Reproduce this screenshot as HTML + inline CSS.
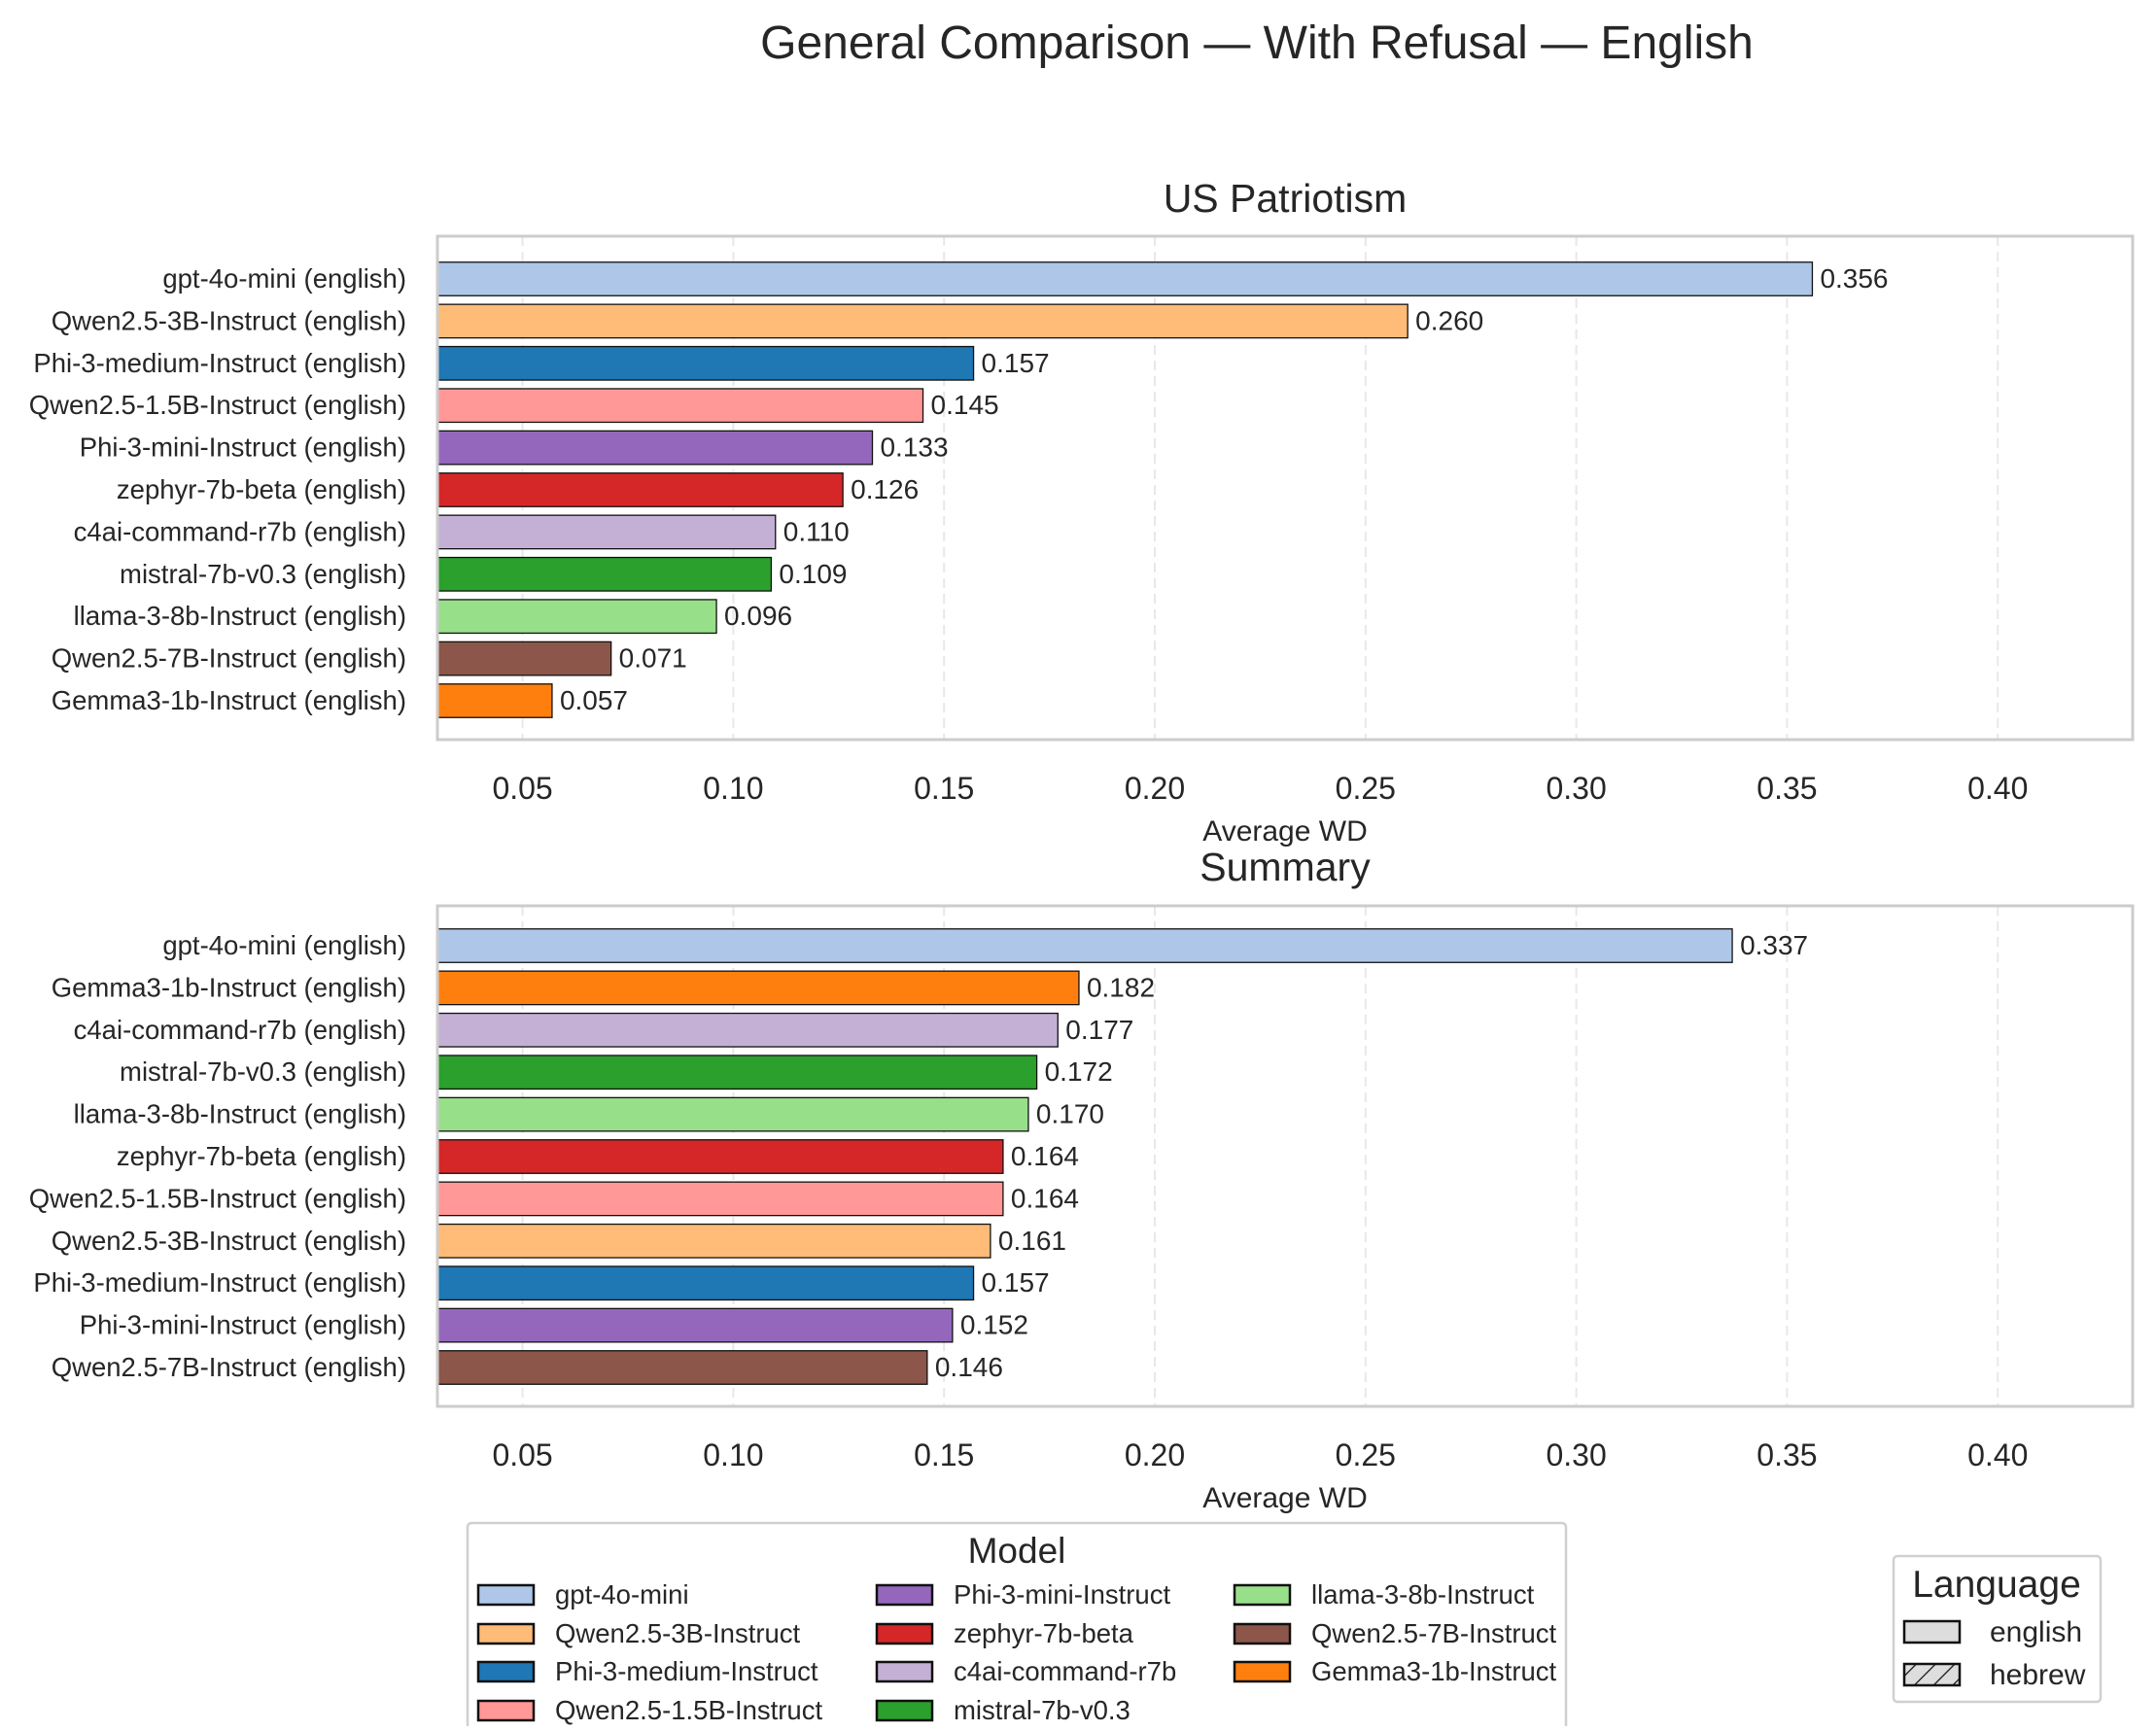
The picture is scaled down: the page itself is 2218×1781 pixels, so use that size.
<!DOCTYPE html>
<html><head><meta charset="utf-8"><style>
body{margin:0;background:#fff;}
svg text{font-family:"Liberation Sans",Arial,sans-serif;fill:#262626;}
</style></head><body>
<svg id="chart" width="2218" height="1776" viewBox="0 0 2218 1776" xmlns="http://www.w3.org/2000/svg">
<text x="1293" y="60" font-size="48" text-anchor="middle">General Comparison — With Refusal — English</text>
<g id="plots"></g>
<g id="legend"></g>
</svg>
<script>
const colors = {"gpt-4o-mini":"#aec7e8","Qwen2.5-3B-Instruct":"#ffbb78","Phi-3-medium-Instruct":"#1f77b4","Qwen2.5-1.5B-Instruct":"#ff9896","Phi-3-mini-Instruct":"#9467bd","zephyr-7b-beta":"#d62728","c4ai-command-r7b":"#c5b0d5","mistral-7b-v0.3":"#2ca02c","llama-3-8b-Instruct":"#98df8a","Qwen2.5-7B-Instruct":"#8c564b","Gemma3-1b-Instruct":"#ff7f0e"};
const topModels = ["gpt-4o-mini","Qwen2.5-3B-Instruct","Phi-3-medium-Instruct","Qwen2.5-1.5B-Instruct","Phi-3-mini-Instruct","zephyr-7b-beta","c4ai-command-r7b","mistral-7b-v0.3","llama-3-8b-Instruct","Qwen2.5-7B-Instruct","Gemma3-1b-Instruct"];
const topValues = [0.356,0.260,0.157,0.145,0.133,0.126,0.110,0.109,0.096,0.071,0.057];
const botModels = ["gpt-4o-mini","Gemma3-1b-Instruct","c4ai-command-r7b","mistral-7b-v0.3","llama-3-8b-Instruct","zephyr-7b-beta","Qwen2.5-1.5B-Instruct","Qwen2.5-3B-Instruct","Phi-3-medium-Instruct","Phi-3-mini-Instruct","Qwen2.5-7B-Instruct"];
const botValues = [0.337,0.182,0.177,0.172,0.170,0.164,0.164,0.161,0.157,0.152,0.146];
const xTicks = [0.05,0.10,0.15,0.20,0.25,0.30,0.35,0.40];
const legendModels = ["gpt-4o-mini","Qwen2.5-3B-Instruct","Phi-3-medium-Instruct","Qwen2.5-1.5B-Instruct","Phi-3-mini-Instruct","zephyr-7b-beta","c4ai-command-r7b","mistral-7b-v0.3","llama-3-8b-Instruct","Qwen2.5-7B-Instruct","Gemma3-1b-Instruct"];

const NS="http://www.w3.org/2000/svg";
function mk(tag,attrs,parent,text){const e=document.createElementNS(NS,tag);for(const k in attrs)e.setAttribute(k,attrs[k]);if(text!==undefined)e.textContent=text;parent.appendChild(e);return e;}
const L=450,R=2194,XMIN=0.0298,XMAX=0.432;
function xs(v){return L+(v-XMIN)/(XMAX-XMIN)*(R-L);}

function panel(name,title,models,values,top,bottom,c0,titleY,tickY,labY){
  const g=mk('g',{},document.getElementById('plots'));
  
  
  const t=mk('text',{x:(L+R)/2,y:titleY,'font-size':41,'text-anchor':'middle'},g,title);
  
  
  xTicks.forEach(v=>{
    const gl=mk('line',{x1:xs(v),x2:xs(v),y1:top,y2:bottom,stroke:'#e8e8e8','stroke-width':2,'stroke-dasharray':'10,6'},g);
    
    
    const tl=mk('text',{x:xs(v),y:tickY,'font-size':32,'text-anchor':'middle'},g,v.toFixed(2));
    
    
  });
  const step=43.4, bh=34.5;
  models.forEach((m,i)=>{
    const cy=c0+i*step;
    const b=mk('rect',{x:L,y:cy-bh/2,width:xs(values[i])-L,height:bh,fill:colors[m],stroke:'#111','stroke-width':1.3},g);
    
    
    const vl=mk('text',{x:xs(values[i])+8,y:cy+9,'font-size':28},g,values[i].toFixed(3));
    
    
    const yl=mk('text',{x:418,y:cy+9,'font-size':27.5,'text-anchor':'end'},g,m+' (english)');
    
    
  });
  const fr=mk('rect',{x:L,y:top,width:R-L,height:bottom-top,fill:'none',stroke:'#cccccc','stroke-width':3},g);
  
  
  const al=mk('text',{x:(L+R)/2,y:labY,'font-size':30,'text-anchor':'middle'},g,'Average WD');
  
  
}
panel('us-patriotism-panel','US Patriotism',topModels,topValues,243,761,287,218,822,865);
panel('summary-panel','Summary',botModels,botValues,932,1447,973,906,1508,1551);

const lg=document.getElementById('legend');
const mb=mk('rect',{x:481,y:1567,width:1130,height:230,fill:'#fff',stroke:'#d0d0d0','stroke-width':2.5,rx:4},lg);


const mt=mk('text',{x:1046,y:1608,'font-size':37,'text-anchor':'middle'},lg,'Model');


const colX=[492,902,1270], rowY=[1641,1681,1720,1760];
legendModels.forEach((m,i)=>{
  const c=Math.floor(i/4), r=i%4;
  const p=mk('rect',{x:colX[c],y:rowY[r]-10,width:57,height:20,fill:colors[m],stroke:'#111','stroke-width':2.5},lg);
  
  
  const t=mk('text',{x:colX[c]+79,y:rowY[r]+9,'font-size':27.5},lg,m);
  
  
});
const defs=mk('defs',{},lg);
const pat=mk('pattern',{id:'hatch',patternUnits:'userSpaceOnUse',width:14,height:14,patternTransform:'rotate(45)'},defs);
mk('rect',{width:14,height:14,fill:'#dddddd'},pat);
mk('line',{x1:0,y1:0,x2:0,y2:14,stroke:'#111','stroke-width':2.5},pat);
const lb=mk('rect',{x:1948,y:1601,width:213,height:150,fill:'#fff',stroke:'#d0d0d0','stroke-width':2.5,rx:4},lg);


const lt=mk('text',{x:2054,y:1643,'font-size':39,'text-anchor':'middle'},lg,'Language');


[['english','#dddddd',1679],['hebrew','url(#hatch)',1723]].forEach(([n,f,y])=>{
  const p=mk('rect',{x:1959,y:y-11,width:57,height:22,fill:f,stroke:'#111','stroke-width':2.5},lg);
  
  
  const t=mk('text',{x:2047,y:y+10,'font-size':30},lg,n);
  
  
});
</script>
</body></html>
